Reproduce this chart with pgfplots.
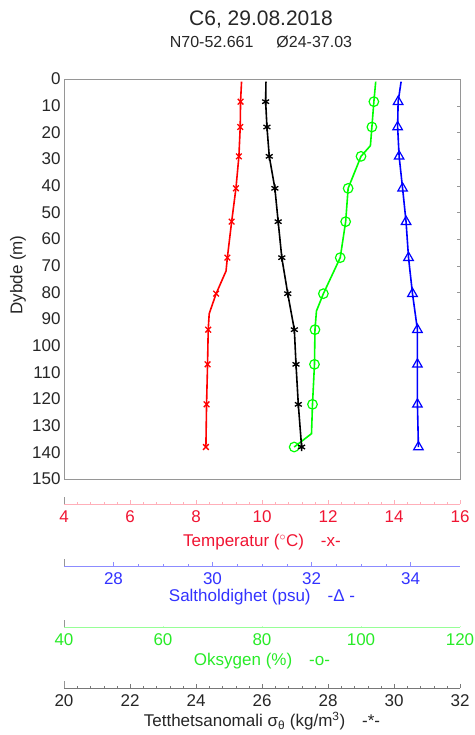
\documentclass[border=0pt]{standalone}
\usepackage{fontspec}
\setmainfont{Liberation Sans}
\usepackage{pgfplots}
\pgfplotsset{compat=1.18}

\definecolor{TRed}{RGB}{255,0,0}
\definecolor{TRedTxt}{RGB}{240,20,50}
\definecolor{TRedLine}{RGB}{255,175,185}
\definecolor{SBlue}{RGB}{0,0,255}
\definecolor{SBlueTxt}{RGB}{50,50,255}
\definecolor{SBlueLine}{RGB}{140,140,255}
\definecolor{OGreen}{RGB}{0,255,0}
\definecolor{OGreenTxt}{RGB}{40,235,40}
\definecolor{OGreenLine}{RGB}{150,255,150}
\definecolor{BoxGray}{RGB}{150,150,150}
\definecolor{DGray}{RGB}{120,120,120}

\newcommand{\lblfont}{\fontsize{17}{20}\selectfont}

\pgfplotsset{
  profile/.style={scale only axis, width=396pt, height=400pt,
    at={(64pt,-79pt)}, anchor=north west,
    ymin=0, ymax=150, y dir=reverse},
  hidden/.style={profile, hide axis},
  scalebar/.style={scale only axis, width=396pt, height=7pt,
    anchor=south west, axis x line=bottom, axis y line=left,
    axis line style={-}, ymin=0, ymax=1, ytick=\empty,
    y axis line style={-, BoxGray},
    tick align=inside, major tick length=4pt, minor tick length=2pt,
    xticklabel style={font=\lblfont, yshift=-3pt},
    /pgf/number format/assume math mode=true},
}

\begin{document}
\begin{tikzpicture}
\useasboundingbox (0,0) rectangle (474pt,-735pt);

% temperature axis carries the box and depth ticks
\begin{axis}[profile, xmin=4, xmax=16, xtick=\empty,
  ytick={0,10,...,150}, ytick pos=right, yticklabel pos=left,
  major tick length=3.5pt, tick align=inside,
  axis line style={BoxGray}, tick style={BoxGray},
  yticklabel style={font=\lblfont, text=black!85},
  /pgf/number format/assume math mode=true]
\addplot[TRed, line width=1.6pt] coordinates {
  (9.38,1) (9.35,8.5) (9.34,18) (9.30,29) (9.21,41) (9.08,53.5) (8.95,67)
  (8.91,72) (8.61,80.5) (8.40,88) (8.37,94) (8.35,107) (8.32,122) (8.30,138)};
\addplot[TRed, only marks, mark=x, mark size=4pt, line width=1.3pt] coordinates {
  (9.35,8.5) (9.34,18) (9.30,29) (9.21,41) (9.08,53.5) (8.95,67)
  (8.61,80.5) (8.37,94) (8.35,107) (8.32,122) (8.30,138)};
\end{axis}

% salinity
\begin{axis}[hidden, xmin=27, xmax=35]
\addplot[SBlue, line width=1.6pt] coordinates {
  (33.81,1) (33.75,8.5) (33.74,18) (33.77,29) (33.84,41) (33.91,53.5)
  (33.96,67) (34.04,80.5) (34.14,94) (34.14,107) (34.14,122) (34.16,138)};
\addplot[SBlue, only marks, mark=triangle, mark size=5.5pt, line width=1.2pt] coordinates {
  (33.75,8.5) (33.74,18) (33.77,29) (33.84,41) (33.91,53.5)
  (33.96,67) (34.04,80.5) (34.14,94) (34.14,107) (34.14,122) (34.16,138)};
\end{axis}

% oxygen
\begin{axis}[hidden, xmin=40, xmax=120]
\addplot[OGreen, line width=1.6pt] coordinates {
  (102.97,1) (102.6,8.5) (102.2,18) (101.9,25) (100.0,29) (97.4,41)
  (96.9,53.5) (95.8,67) (92.4,80.5) (91.0,87) (90.7,94) (90.6,107)
  (90.2,122) (90.0,133) (86.5,138)};
\addplot[OGreen, only marks, mark=o, mark size=4.8pt, line width=1.2pt] coordinates {
  (102.6,8.5) (102.2,18) (100.0,29) (97.4,41) (96.9,53.5) (95.8,67)
  (92.4,80.5) (90.7,94) (90.6,107) (90.2,122) (86.5,138)};
\end{axis}

% density anomaly
\begin{axis}[hidden, xmin=20, xmax=32]
\addplot[black, line width=1.6pt] coordinates {
  (26.12,1) (26.11,8.5) (26.15,18) (26.22,29) (26.39,41) (26.49,53.5)
  (26.60,67) (26.78,80.5) (26.98,94) (27.03,107) (27.10,122) (27.20,138)};
\addplot[black, only marks, mark=asterisk, mark size=4pt, line width=1.3pt] coordinates {
  (26.11,8.5) (26.15,18) (26.22,29) (26.39,41) (26.49,53.5)
  (26.60,67) (26.78,80.5) (26.98,94) (27.03,107) (27.10,122) (27.20,138)};
\end{axis}

% scale bars below
\begin{axis}[scalebar, at={(64pt,-504pt)}, xmin=4, xmax=16,
  xtick={4,6,...,16}, minor tick num=4,
  x axis line style={-, TRedLine}, xtick style={TRedLine},
  xticklabel style={TRedTxt}]
\end{axis}
\begin{axis}[scalebar, at={(64pt,-566pt)}, xmin=27, xmax=35,
  xtick={28,30,32,34}, minor tick num=3,
  x axis line style={-, SBlueLine}, xtick style={SBlueLine},
  xticklabel style={SBlueTxt}]
\end{axis}
\begin{axis}[scalebar, at={(64pt,-627pt)}, xmin=40, xmax=120,
  xtick={40,60,...,120}, major tick length=1pt,
  x axis line style={-, OGreenLine}, xtick style={OGreenLine!60},
  xticklabel style={OGreenTxt}]
\end{axis}
\begin{axis}[scalebar, at={(64pt,-688pt)}, xmin=20, xmax=32,
  xtick={20,22,...,32}, minor tick num=4,
  x axis line style={-, DGray}, xtick style={DGray},
  xticklabel style={black!85}]
\end{axis}

% titles and labels
\node[font=\fontsize{21}{25}\selectfont, text=black!85] at (261pt,-20pt) {C6, 29.08.2018};
\node[font=\fontsize{16}{19}\selectfont, text=black!85] at (261pt,-42pt) {N70-52.661\hspace{23pt}Ø24-37.03};
\node[font=\lblfont, rotate=90, text=black!85] at (18pt,-275pt) {Dybde (m)};
\node[font=\lblfont, text=TRedTxt] at (262pt,-542pt) {Temperatur ($^{\circ}$C)\quad -x-};
\node[font=\lblfont, text=SBlueTxt] at (262pt,-597pt) {Saltholdighet (psu)\quad -Δ -};
\node[font=\lblfont, text=OGreenTxt] at (262pt,-661pt) {Oksygen (\%)\quad -o-};
\node[font=\lblfont, text=black!85] at (262pt,-721pt) {Tetthetsanomali σ\textsubscript{θ} (kg/m\textsuperscript{3})\quad -*-};
\end{tikzpicture}
\end{document}
